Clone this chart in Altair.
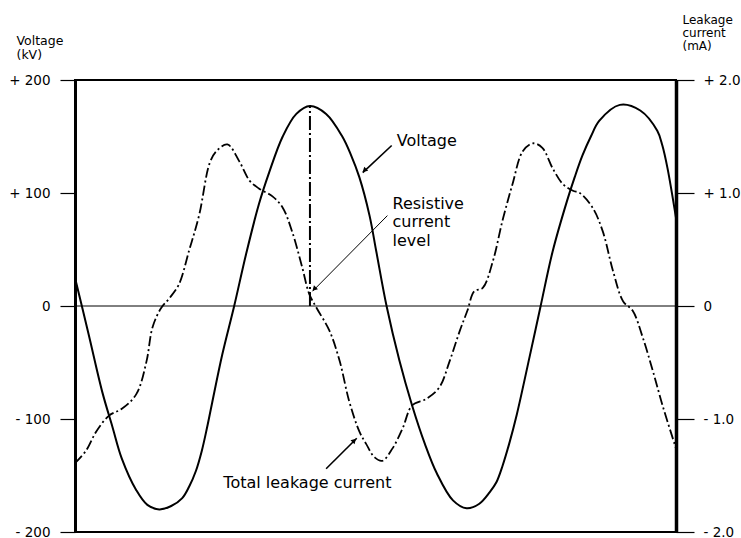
import altair as alt
import pandas as pd

# Phase angle (electrical degrees) and applied voltage (kV)
phase_v = [0, 16, 32, 44, 55, 72, 85, 99, 113, 126, 134, 142, 149, 155, 161,
           173, 187, 201, 216, 228, 244, 260, 276, 295, 314, 324, 334, 346,
           354, 366, 381, 396, 411, 425, 444, 460, 475, 487, 495, 502, 510,
           519, 534, 547, 561, 578, 587, 596, 606, 616, 640, 664, 684, 690,
           696, 706]
voltage_kv = [25, -25, -76, -107, -135, -163, -176, -180, -177, -170, -160,
              -146, -128, -108, -86, -43, 0, 46, 90, 118, 150, 170, 177, 170,
              150, 134, 114, 80, 48, 0, -48, -88, -122, -148, -172, -179,
              -175, -165, -156, -142, -122, -96, -45, 0, 48, 93, 114, 133,
              150, 164, 178, 173, 155, 142, 122, 78]

# Phase angle (electrical degrees) and total leakage current (mA)
phase_i = [0, 13, 25, 40, 55, 72, 84, 91, 101, 111, 122, 134, 146, 158, 166,
           179, 193, 205, 216, 232, 244, 255, 267, 275, 284, 299, 311, 322,
           334, 342, 352, 361, 373, 385, 396, 413, 428, 440, 452, 461, 469,
           479, 491, 502, 514, 526, 538, 549, 561, 573, 585, 593, 608, 620,
           632, 644, 655, 667, 679, 691, 706]
current_ma = [-1.39, -1.28, -1.11, -0.97, -0.91, -0.78, -0.49, -0.19, -0.02,
              0.07, 0.19, 0.49, 0.81, 1.26, 1.37, 1.43, 1.28, 1.11, 1.04,
              0.97, 0.87, 0.66, 0.34, 0.11, -0.02, -0.22, -0.49, -0.84,
              -1.11, -1.22, -1.34, -1.37, -1.26, -1.08, -0.88, -0.82, -0.72,
              -0.49, -0.22, -0.04, 0.13, 0.16, 0.40, 0.75, 1.08, 1.37, 1.44,
              1.40, 1.22, 1.08, 1.02, 1.00, 0.87, 0.66, 0.31, 0.04, -0.04,
              -0.28, -0.58, -0.90, -1.26]

# Resistive current level: taken at the voltage peak
peak_phase = 276
peak_kv = 177

# Callout labels (anchor phase, anchor kV)
labels = ["Voltage", "Resistive\ncurrent\nlevel", "Total leakage current"]
label_phase = [378, 373, 273]
label_kv = [146, 86, -161]
label_align = ["left", "left", "center"]
label_baseline = ["middle", "alphabetic", "alphabetic"]

# Leader lines: start (phase, kV) -> end (phase, kV), arrowhead at end
arrow_phase = [372, 367, 295]
arrow_kv = [142, 80, -144]
arrow_phase2 = [338, 279, 331]
arrow_kv2 = [118, 13, -117]
arrow_width = [1.6, 1.0, 1.6]
head_phase = [340, 281, 328]
head_kv = [120, 15, -119]
head_angle = [227, 225, 44]

FONT = "DejaVu Sans"
X_SCALE = alt.Scale(domain=[0, 706], nice=False, zero=False)
KV_SCALE = alt.Scale(domain=[-200, 200], nice=False)
MA_SCALE = alt.Scale(domain=[-2, 2], nice=False)

left_axis = alt.Axis(
    orient="left",
    values=[-200, -100, 0, 100, 200],
    labelExpr="datum.value > 0 ? '+ ' + datum.value : (datum.value < 0 ? '- ' + abs(datum.value) : '0')",
    title=["Voltage", "(kV)"],
    titleAngle=0, titleAlign="left", titleBaseline="top",
    titleX=-59, titleY=-46, titleLineHeight=14, titleFontSize=12.5,
    domainWidth=3, tickSize=15, tickWidth=1.2, labelPadding=10, grid=False,
)
right_axis = alt.Axis(
    orient="right",
    values=[-2, -1, 0, 1, 2],
    labelExpr="datum.value > 0 ? '+ ' + format(datum.value, '.1f') : (datum.value < 0 ? '- ' + format(abs(datum.value), '.1f') : '\u2002\u20020')",
    title=["Leakage", "current", "(mA)"],
    titleAngle=0, titleAlign="left", titleBaseline="top",
    titleX=6, titleY=-66, titleLineHeight=13, titleFontSize=12,
    domainWidth=3.5, tickSize=18, tickWidth=1.2, labelPadding=9, grid=False,
)

v_df = pd.DataFrame({"phase": phase_v, "kv": voltage_kv})
i_df = pd.DataFrame({"phase": phase_i, "ma": current_ma})

x_enc = alt.X("phase:Q", scale=X_SCALE, axis=None)
y_enc = alt.Y("kv:Q", scale=KV_SCALE, axis=left_axis)

voltage = alt.Chart(v_df).mark_line(
    color="black", strokeWidth=2, interpolate="catmull-rom"
).encode(x=x_enc, y=y_enc)

zero_line = alt.Chart(pd.DataFrame({"kv": [0]})).mark_rule(
    color="black", strokeWidth=1
).encode(y=y_enc)

resistive = alt.Chart(
    pd.DataFrame({"phase": [peak_phase], "kv": [0], "kv2": [peak_kv]})
).mark_rule(color="black", strokeWidth=2, strokeDash=[14, 3, 2, 3]).encode(
    x=x_enc, y=y_enc, y2="kv2:Q"
)

arrows_df = pd.DataFrame({
    "phase": arrow_phase, "kv": arrow_kv,
    "phase2": arrow_phase2, "kv2": arrow_kv2, "w": arrow_width,
})
arrows = alt.Chart(arrows_df).mark_rule(color="black").encode(
    x=x_enc, y=y_enc, x2="phase2:Q", y2="kv2:Q",
    strokeWidth=alt.StrokeWidth("w:Q", scale=None),
)

heads = alt.Chart(
    pd.DataFrame({"phase": head_phase, "kv": head_kv, "ang": head_angle})
).mark_point(shape="triangle-up", filled=True, color="black", size=32, opacity=1).encode(
    x=x_enc, y=y_enc, angle=alt.Angle("ang:Q", scale=None)
)

text_layers = []
for lab, ph, kv, al, bl in zip(labels, label_phase, label_kv, label_align, label_baseline):
    text_layers.append(
        alt.Chart(pd.DataFrame({"phase": [ph], "kv": [kv], "t": [lab]})).mark_text(
            font=FONT, fontSize=16, color="black", align=al, baseline=bl,
            lineBreak="\n", lineHeight=18.5,
        ).encode(x=x_enc, y=y_enc, text="t:N")
    )

left_group = alt.layer(zero_line, voltage, resistive, arrows, heads, *text_layers)

current = alt.Chart(i_df).mark_line(
    color="black", strokeWidth=1.8, interpolate="catmull-rom", strokeDash=[10, 3, 2, 3]
).encode(
    x=x_enc,
    y=alt.Y("ma:Q", scale=MA_SCALE, axis=right_axis),
)

chart = alt.layer(left_group, current).resolve_scale(y="independent").properties(
    width=601,
    height=452,
    padding={"left": 75, "top": 80, "right": 65, "bottom": 6},
    autosize=alt.AutoSizeParams(type="none"),
    background="white",
).configure_view(
    stroke="black", strokeWidth=2
).configure_axis(
    labelFont=FONT, labelFontSize=13.5, labelColor="black",
    titleFont=FONT, titleFontSize=13, titleFontWeight="normal", titleColor="black",
    domainColor="black", tickColor="black",
)

chart.save("out.html", embed_options={"renderer": "svg", "actions": False})
